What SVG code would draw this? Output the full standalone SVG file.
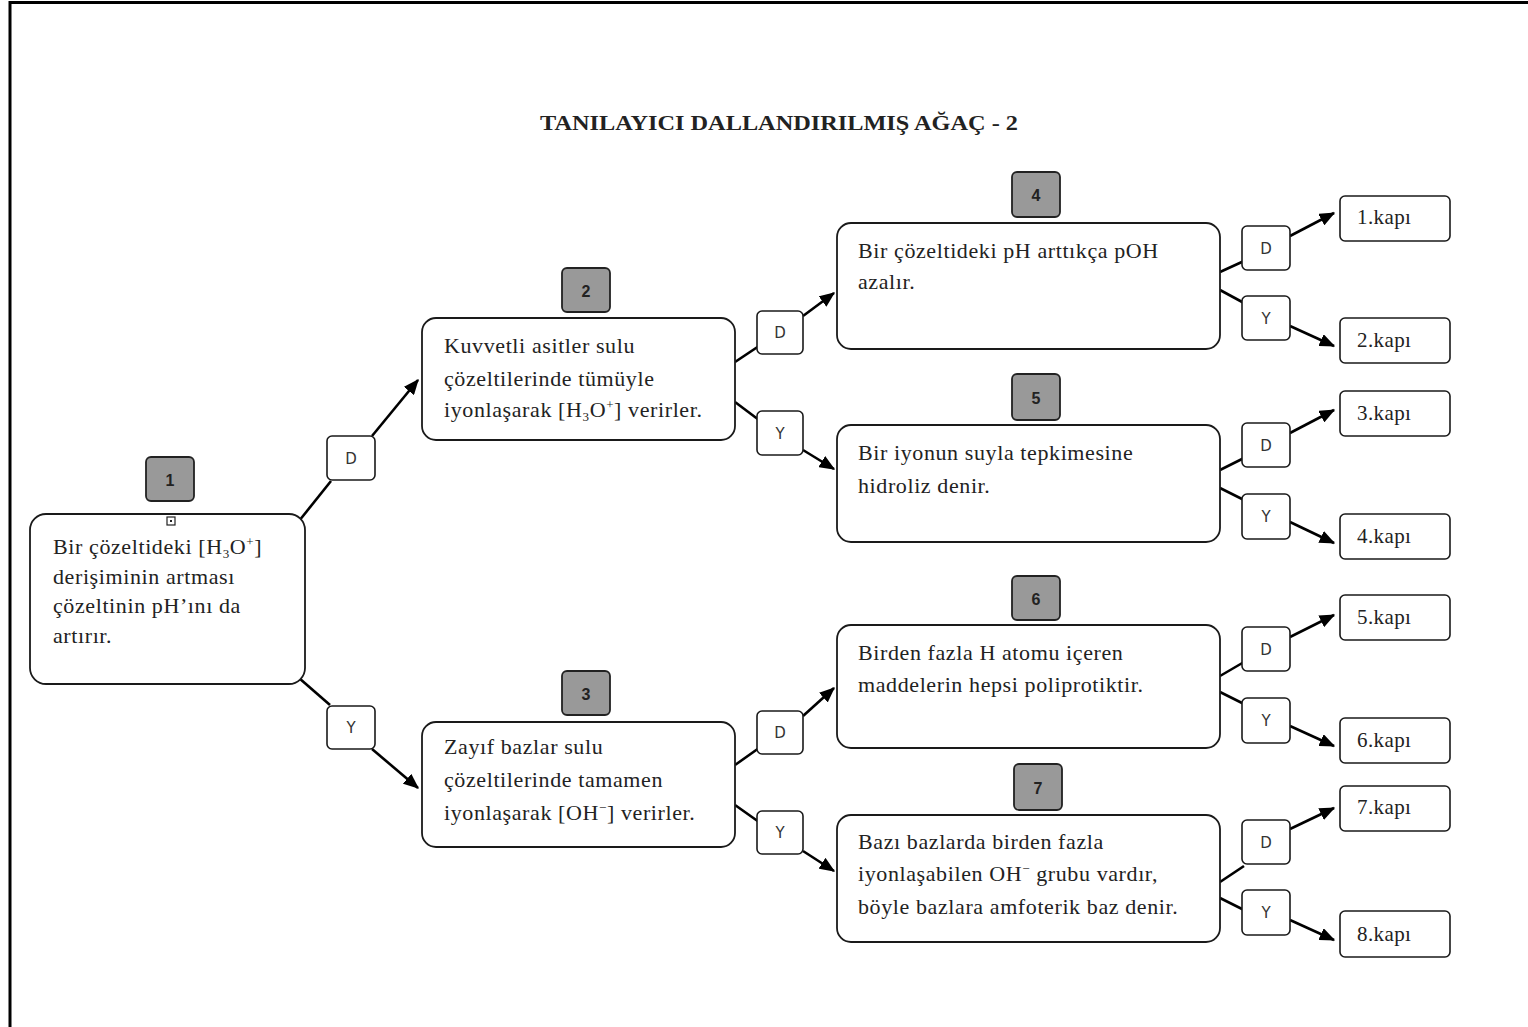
<svg xmlns="http://www.w3.org/2000/svg" width="1528" height="1027" viewBox="0 0 1528 1027">
<defs>
<style>
.frame{stroke:#000;stroke-width:3;fill:none}
.node{fill:#fff;stroke:#1a1a1a;stroke-width:1.8}
.num{fill:#999;stroke:#222;stroke-width:1.8}
.numt{font-family:"Liberation Sans",Arial,sans-serif;font-weight:bold;font-size:16px;fill:#222;text-anchor:middle}
.dy{fill:#fff;stroke:#1a1a1a;stroke-width:1.6}
.dyt{font-family:"DejaVu Sans","Liberation Sans",sans-serif;font-size:15px;fill:#333;text-anchor:middle}
.body{font-family:"Liberation Serif","Times New Roman",serif;font-size:22px;letter-spacing:0.6px;fill:#222}
.kapt{font-family:"Liberation Serif","Times New Roman",serif;font-size:21px;letter-spacing:0.4px;fill:#222}
.title{font-family:"Liberation Serif","Times New Roman",serif;font-weight:bold;font-size:21px;fill:#222}
.sub{font-size:13px}
.con{stroke:#000;stroke-width:2.6;fill:none}
.arr{stroke:#000;stroke-width:2.6;fill:none;marker-end:url(#ah)}
</style>
<marker id="ah" viewBox="0 0 12 10" refX="11" refY="5" markerWidth="6" markerHeight="5" orient="auto" markerUnits="strokeWidth">
<path d="M0,0 L12,5 L0,10 Z" fill="#000"/>
</marker>
</defs>
<rect width="1528" height="1027" fill="#fff"/>
<path class="frame" d="M10,1027 L10,2.5 L1528,2.5"/>
<text class="title" x="540" y="130" textLength="478" lengthAdjust="spacingAndGlyphs">TANILAYICI DALLANDIRILMIŞ AĞAÇ - 2</text>

<g id="connectors">
<line class="con" x1="299" y1="521" x2="331" y2="481"/>
<line class="arr" x1="372" y1="436" x2="418" y2="380"/>
<line class="con" x1="299" y1="678" x2="330" y2="705"/>
<line class="arr" x1="372" y1="749" x2="418" y2="788"/>

<line class="con" x1="735" y1="362" x2="759" y2="346"/>
<line class="arr" x1="803" y1="316" x2="834" y2="293"/>
<line class="con" x1="735" y1="402" x2="759" y2="420"/>
<line class="arr" x1="803" y1="450" x2="834" y2="469"/>

<line class="con" x1="735" y1="765" x2="759" y2="748"/>
<line class="arr" x1="803" y1="716" x2="834" y2="688"/>
<line class="con" x1="735" y1="805" x2="759" y2="822"/>
<line class="arr" x1="803" y1="851" x2="834" y2="871"/>

<line class="con" x1="1220" y1="272" x2="1244" y2="261"/>
<line class="arr" x1="1290" y1="236" x2="1334" y2="213"/>
<line class="con" x1="1220" y1="290" x2="1244" y2="303"/>
<line class="arr" x1="1290" y1="326" x2="1334" y2="346"/>

<line class="con" x1="1220" y1="470" x2="1244" y2="458"/>
<line class="arr" x1="1290" y1="433" x2="1334" y2="410"/>
<line class="con" x1="1220" y1="488" x2="1244" y2="500"/>
<line class="arr" x1="1290" y1="522" x2="1334" y2="543"/>

<line class="con" x1="1220" y1="676" x2="1244" y2="662"/>
<line class="arr" x1="1290" y1="637" x2="1334" y2="615"/>
<line class="con" x1="1220" y1="692" x2="1244" y2="704"/>
<line class="arr" x1="1290" y1="726" x2="1334" y2="746"/>

<line class="con" x1="1220" y1="882" x2="1244" y2="866"/>
<line class="arr" x1="1290" y1="829" x2="1334" y2="808"/>
<line class="con" x1="1220" y1="898" x2="1244" y2="910"/>
<line class="arr" x1="1290" y1="920" x2="1334" y2="940"/>
</g>

<g id="n1">
<rect class="num" x="146" y="457" width="48" height="44" rx="5"/>
<text class="numt" x="170" y="486">1</text>
<rect class="node" x="30" y="514" width="275" height="170" rx="16"/>
<rect x="167" y="517" width="8" height="8" fill="#fff" stroke="#222" stroke-width="1.2"/>
<rect x="170" y="520" width="2" height="2" fill="#222"/>
<text class="body" x="53" y="554">Bir çözeltideki [H<tspan class="sub" dy="4">3</tspan><tspan dy="-4">O</tspan><tspan class="sub" dy="-8">+</tspan><tspan dy="8">]</tspan></text>
<text class="body" x="53" y="584">derişiminin artması</text>
<text class="body" x="53" y="613">çözeltinin pH’ını da</text>
<text class="body" x="53" y="643">artırır.</text>
</g>

<g id="d1"><rect class="dy" x="327" y="436" width="48" height="44" rx="5"/><text class="dyt" x="351" y="464">D</text></g>
<g id="y1"><rect class="dy" x="327" y="706" width="48" height="43" rx="5"/><text class="dyt" x="351" y="733">Y</text></g>

<g id="n2">
<rect class="num" x="562" y="268" width="48" height="44" rx="5"/>
<text class="numt" x="586" y="297">2</text>
<rect class="node" x="422" y="318" width="313" height="122" rx="14"/>
<text class="body" x="444" y="353">Kuvvetli asitler sulu</text>
<text class="body" x="444" y="386">çözeltilerinde tümüyle</text>
<text class="body" x="444" y="417">iyonlaşarak [H<tspan class="sub" dy="4">3</tspan><tspan dy="-4">O</tspan><tspan class="sub" dy="-8">+</tspan><tspan dy="8">] verirler.</tspan></text>
</g>
<g id="d2"><rect class="dy" x="757" y="311" width="46" height="43" rx="5"/><text class="dyt" x="780" y="338">D</text></g>
<g id="y2"><rect class="dy" x="757" y="411" width="46" height="44" rx="5"/><text class="dyt" x="780" y="439">Y</text></g>

<g id="n3">
<rect class="num" x="562" y="671" width="48" height="44" rx="5"/>
<text class="numt" x="586" y="700">3</text>
<rect class="node" x="422" y="722" width="313" height="125" rx="14"/>
<text class="body" x="444" y="754">Zayıf bazlar sulu</text>
<text class="body" x="444" y="787">çözeltilerinde tamamen</text>
<text class="body" x="444" y="820">iyonlaşarak [OH<tspan class="sub" dy="-8">−</tspan><tspan dy="8">] verirler.</tspan></text>
</g>
<g id="d3"><rect class="dy" x="757" y="711" width="46" height="43" rx="5"/><text class="dyt" x="780" y="738">D</text></g>
<g id="y3"><rect class="dy" x="757" y="811" width="46" height="43" rx="5"/><text class="dyt" x="780" y="838">Y</text></g>

<g id="n4">
<rect class="num" x="1012" y="172" width="48" height="45" rx="5"/>
<text class="numt" x="1036" y="201">4</text>
<rect class="node" x="837" y="223" width="383" height="126" rx="14"/>
<text class="body" x="858" y="258">Bir çözeltideki pH arttıkça pOH</text>
<text class="body" x="858" y="289">azalır.</text>
</g>
<g id="d4"><rect class="dy" x="1242" y="226" width="48" height="44" rx="5"/><text class="dyt" x="1266" y="254">D</text></g>
<g id="y4"><rect class="dy" x="1242" y="296" width="48" height="44" rx="5"/><text class="dyt" x="1266" y="324">Y</text></g>

<g id="n5">
<rect class="num" x="1012" y="374" width="48" height="46" rx="5"/>
<text class="numt" x="1036" y="404">5</text>
<rect class="node" x="837" y="425" width="383" height="117" rx="14"/>
<text class="body" x="858" y="460">Bir iyonun suyla tepkimesine</text>
<text class="body" x="858" y="493">hidroliz denir.</text>
</g>
<g id="d5"><rect class="dy" x="1242" y="423" width="48" height="44" rx="5"/><text class="dyt" x="1266" y="451">D</text></g>
<g id="y5"><rect class="dy" x="1242" y="494" width="48" height="45" rx="5"/><text class="dyt" x="1266" y="522">Y</text></g>

<g id="n6">
<rect class="num" x="1012" y="576" width="48" height="44" rx="5"/>
<text class="numt" x="1036" y="605">6</text>
<rect class="node" x="837" y="625" width="383" height="123" rx="14"/>
<text class="body" x="858" y="660">Birden fazla H atomu içeren</text>
<text class="body" x="858" y="692">maddelerin hepsi poliprotiktir.</text>
</g>
<g id="d6"><rect class="dy" x="1242" y="627" width="48" height="44" rx="5"/><text class="dyt" x="1266" y="655">D</text></g>
<g id="y6"><rect class="dy" x="1242" y="698" width="48" height="45" rx="5"/><text class="dyt" x="1266" y="726">Y</text></g>

<g id="n7">
<rect class="num" x="1014" y="764" width="48" height="46" rx="5"/>
<text class="numt" x="1038" y="794">7</text>
<rect class="node" x="837" y="815" width="383" height="127" rx="14"/>
<text class="body" x="858" y="849">Bazı bazlarda birden fazla</text>
<text class="body" x="858" y="881">iyonlaşabilen OH<tspan class="sub" dy="-8">−</tspan><tspan dy="8"> grubu vardır,</tspan></text>
<text class="body" x="858" y="914">böyle bazlara amfoterik baz denir.</text>
</g>
<g id="d7"><rect class="dy" x="1242" y="820" width="48" height="44" rx="5"/><text class="dyt" x="1266" y="848">D</text></g>
<g id="y7"><rect class="dy" x="1242" y="890" width="48" height="45" rx="5"/><text class="dyt" x="1266" y="918">Y</text></g>

<g id="k1"><rect class="dy" x="1340" y="196" width="110" height="45" rx="5"/><text class="kapt" x="1357" y="224">1.kapı</text></g>
<g id="k2"><rect class="dy" x="1340" y="318" width="110" height="45" rx="5"/><text class="kapt" x="1357" y="347">2.kapı</text></g>
<g id="k3"><rect class="dy" x="1340" y="391" width="110" height="45" rx="5"/><text class="kapt" x="1357" y="420">3.kapı</text></g>
<g id="k4"><rect class="dy" x="1340" y="514" width="110" height="45" rx="5"/><text class="kapt" x="1357" y="543">4.kapı</text></g>
<g id="k5"><rect class="dy" x="1340" y="595" width="110" height="45" rx="5"/><text class="kapt" x="1357" y="624">5.kapı</text></g>
<g id="k6"><rect class="dy" x="1340" y="718" width="110" height="45" rx="5"/><text class="kapt" x="1357" y="747">6.kapı</text></g>
<g id="k7"><rect class="dy" x="1340" y="786" width="110" height="45" rx="5"/><text class="kapt" x="1357" y="814">7.kapı</text></g>
<g id="k8"><rect class="dy" x="1340" y="911" width="110" height="46" rx="5"/><text class="kapt" x="1357" y="941">8.kapı</text></g>
</svg>
